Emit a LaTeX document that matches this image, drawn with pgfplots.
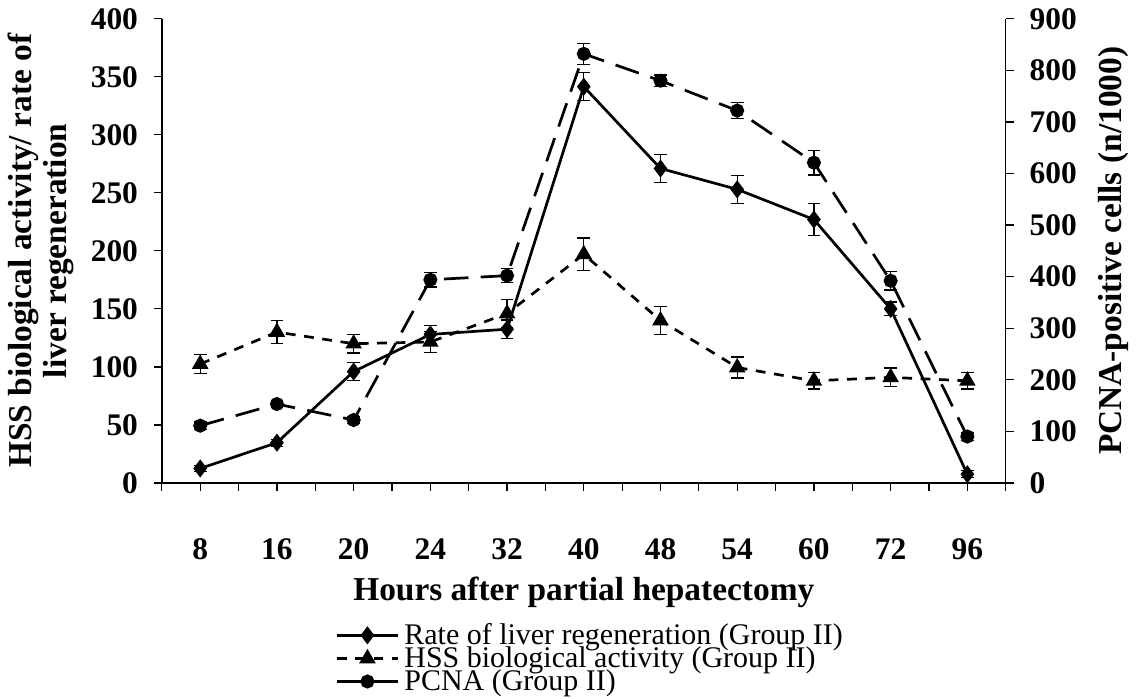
\documentclass[border=0pt]{standalone}
\usepackage{fontspec}
\setmainfont{Liberation Serif}
\usepackage{pgfplots}
\usepackage{pgfplotstable}
\pgfplotsset{compat=1.18}

% x = category slot (0.5 ... 10.5), y = mean, e = error
\pgfplotstableread{
x    y     e
0.5  12.5  2.5
1.5  34.7  3
2.5  96    8
3.5  128   8
4.5  132.5 8
5.5  341.5 12
6.5  271   12
7.5  253   12
8.5  227   14
9.5  150   6
10.5 7.5   3
}\ratetab
\pgfplotstableread{
x    y     e
0.5  102.5 8
1.5  130   10
2.5  120   8
3.5  121.5 9
4.5  146   12
5.5  197   14
6.5  140   12
7.5  99.5  9
8.5  88    7
9.5  91    8
10.5 88    7
}\hsstab
\pgfplotstableread{
x    y     e
0.5  111   7
1.5  153   7
2.5  122   7
3.5  394   14
4.5  402   14
5.5  832   20
6.5  780   11
7.5  722   15
8.5  621   24
9.5  392   18
10.5 90    7
}\pcnatab

\pgfplotsset{
  base/.style={
    width=343.6pt,height=189pt,scale only axis,
    xmin=0,xmax=11,
    tick align=outside,major tick length=3.2pt,minor tick length=3.2pt,
    tick style={black,line width=0.5pt},
    axis line style={black,line width=0.6pt},
    ticklabel style={font=\fontsize{12.8}{12.8}\selectfont\bfseries},
    /pgf/number format/assume math mode=true,
    label style={font=\fontsize{13.6}{14.2}\selectfont\bfseries},
  },
  errs/.style={error bars/.cd,y dir=both,y explicit,
    error bar style={solid,line width=0.5pt},
    error mark options={solid,rotate=90,mark size=2.6pt,line width=0.5pt}},
  rateline/.style={black,line width=1.1pt,solid,mark=diamond*,mark size=2.8pt,mark options={solid}},
  hssline/.style={black,line width=1.1pt,dash pattern=on 4pt off 3.5pt,mark=triangle*,mark size=2.8pt,mark options={solid}},
  pcnaline/.style={black,line width=1.1pt,dash pattern=on 10pt off 5pt,mark=*,mark size=2.3pt,mark options={solid}},
  legend image code/.code={
    \draw[#1,mark=none] (0cm,0cm) -- (0.88cm,0cm);
    \draw[#1,only marks] plot coordinates {(0.44cm,0cm)};
  },
}

\begin{document}
\begin{tikzpicture}
\begin{axis}[base,
  axis x line*=bottom,axis y line*=left,
  ymin=0,ymax=400,ytick distance=50,
  xtick={0.5,1.5,...,10.5},
  xticklabels={8,16,20,24,32,40,48,54,60,72,96},
  minor xtick={0,1,...,11},
  xticklabel style={yshift=-16pt},
  yticklabel style={xshift=-3pt},
  xlabel={Hours after partial hepatectomy},
  ylabel={HSS biological activity/ rate of\\liver regeneration},
  ylabel style={align=center,yshift=0pt},
  legend style={draw=none,fill=none,at={(0.205,-0.29)},anchor=north west,
    font=\fontsize{12.2}{12.2}\selectfont,row sep=-4.6pt,
    cells={anchor=west},inner sep=0pt},
]
\addplot[rateline,errs] table[x=x,y=y,y error=e]{\ratetab};
\addlegendentry{Rate of liver regeneration (Group II)}
\addplot[hssline,errs] table[x=x,y=y,y error=e]{\hsstab};
\addlegendentry{HSS biological activity (Group II)}
\addlegendimage{pcnaline}
\addlegendentry{PCNA (Group II)}
\end{axis}
\begin{axis}[base,
  axis x line=none,axis y line*=right,
  ymin=0,ymax=900,ytick distance=100,
  yticklabel style={xshift=3pt},
  ylabel={PCNA-positive cells (n/1000)},
  ylabel style={yshift=-2pt},
]
\addplot[pcnaline,errs] table[x=x,y=y,y error=e]{\pcnatab};
\end{axis}
\end{tikzpicture}
\end{document}
